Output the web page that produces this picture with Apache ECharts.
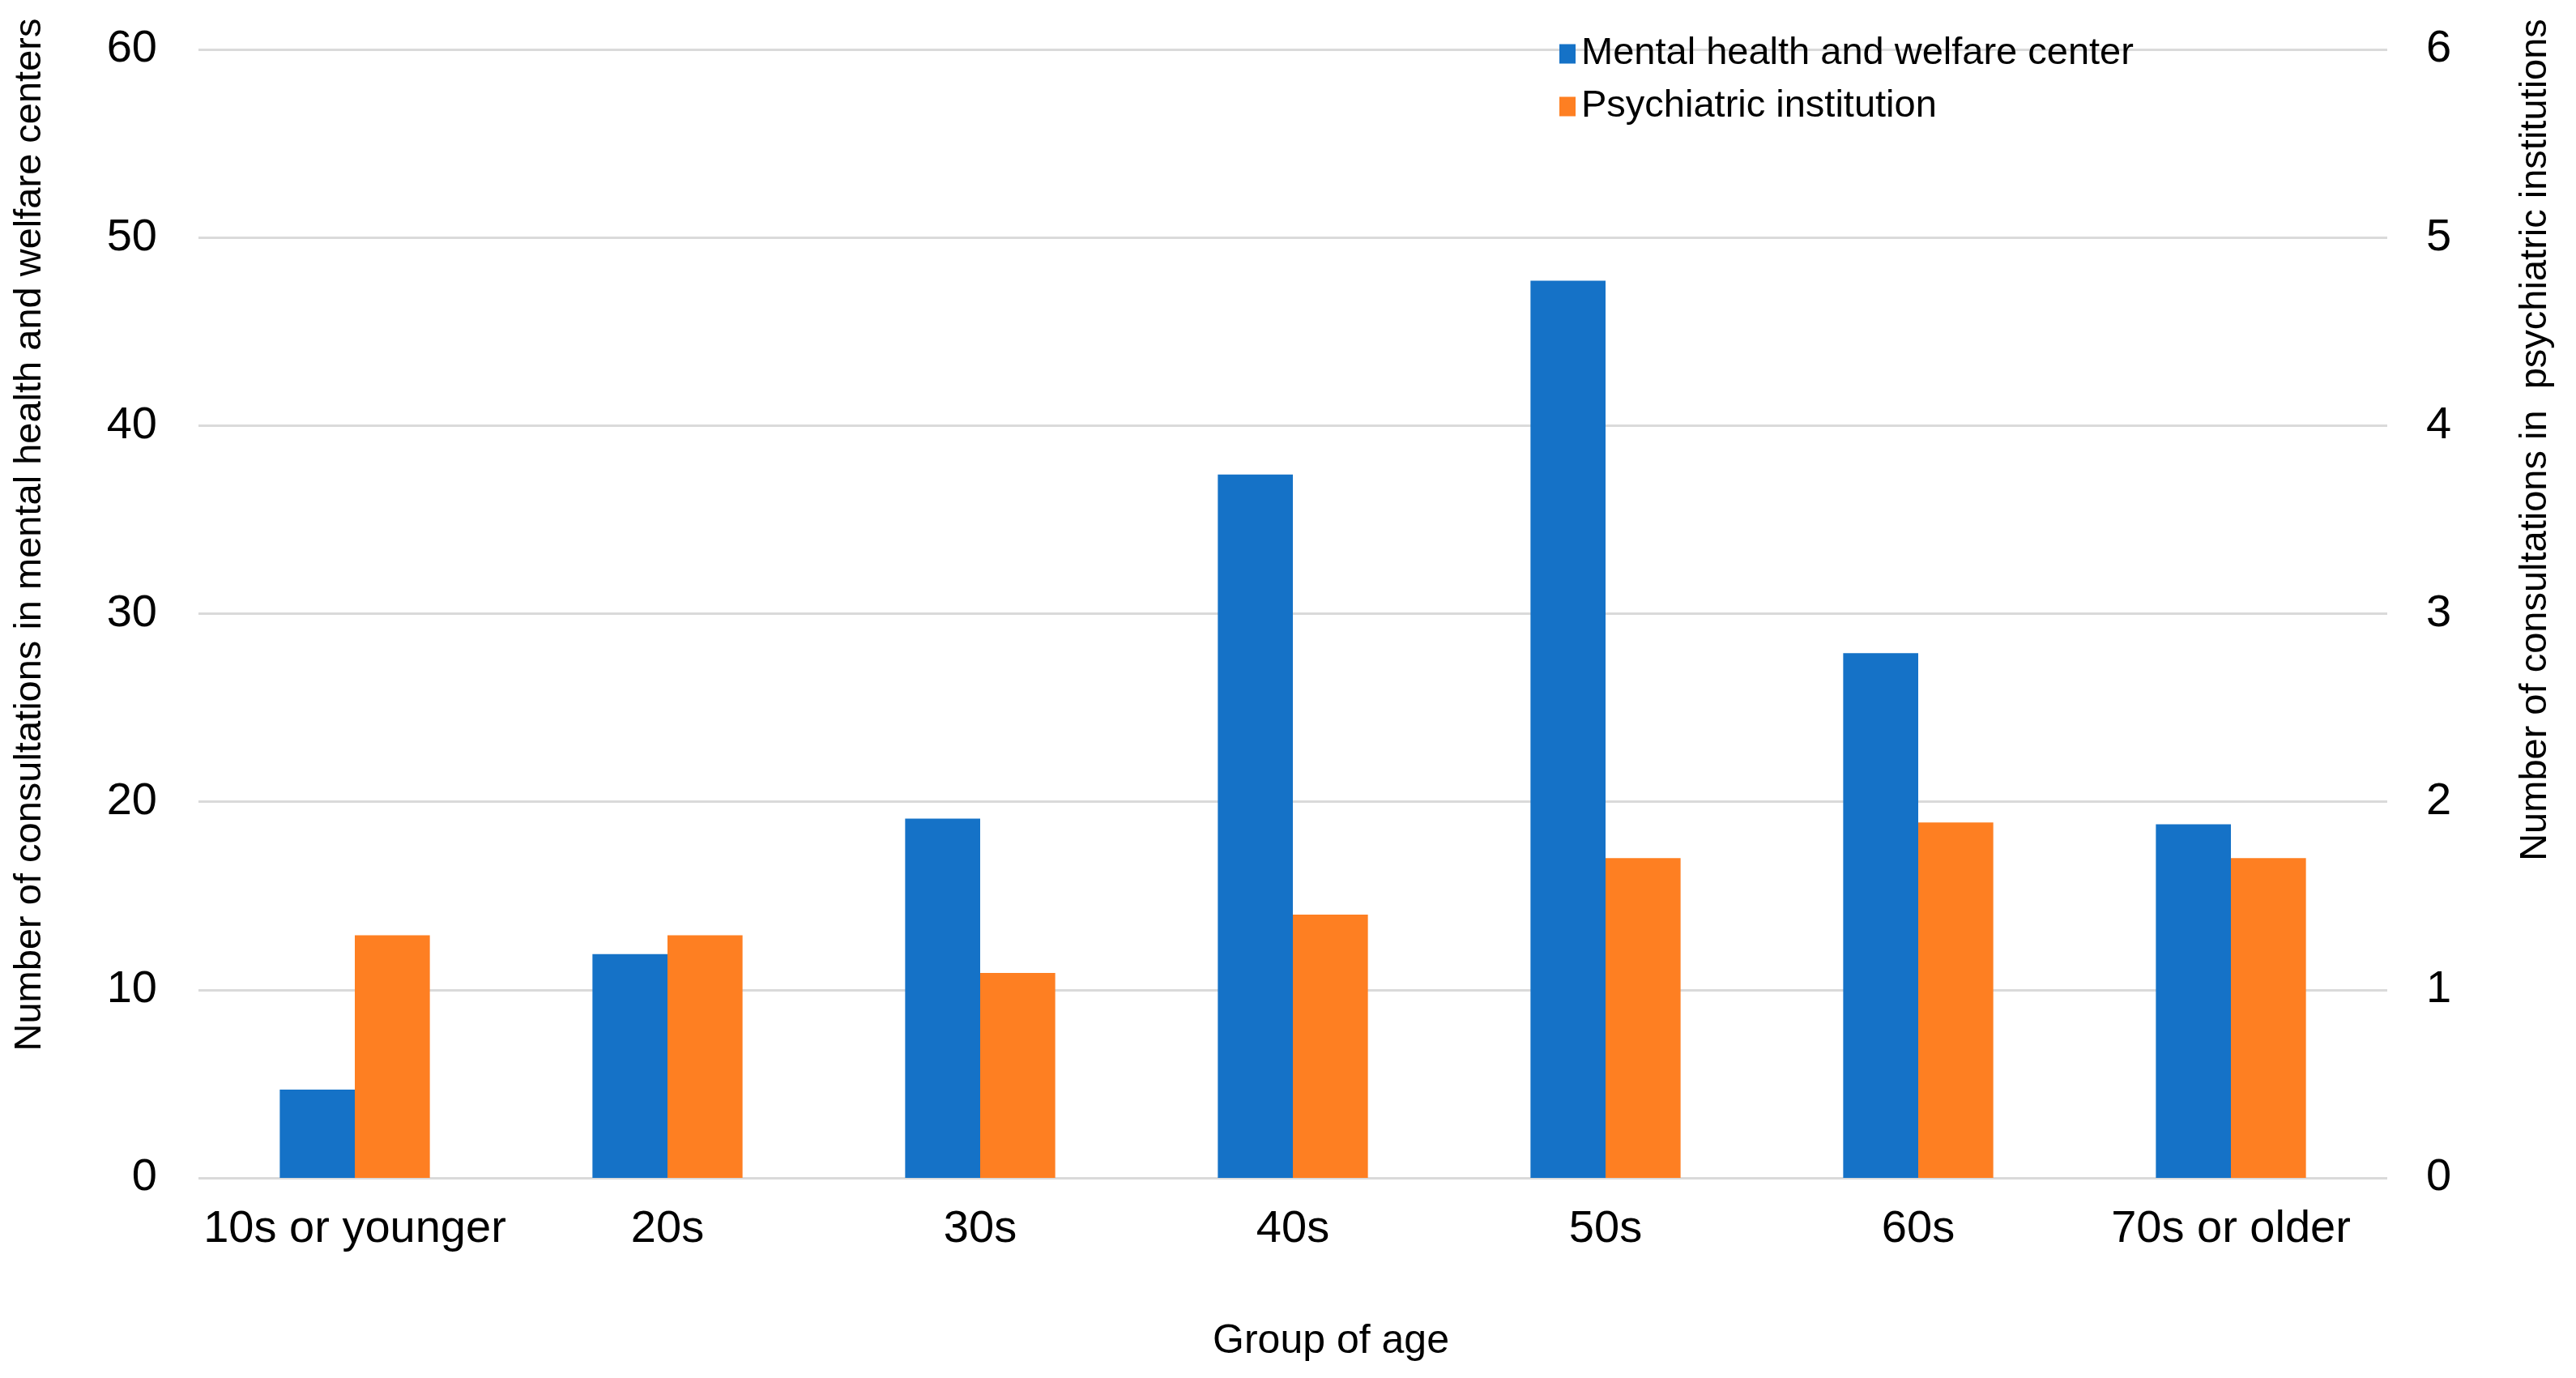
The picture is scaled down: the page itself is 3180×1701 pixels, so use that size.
<!DOCTYPE html>
<html>
<head>
<meta charset="utf-8">
<script src="https://cdn.jsdelivr.net/npm/echarts@6/dist/echarts.min.js"></script>
<style>
html,body{margin:0;padding:0;background:#fff;}
#chart{width:3180px;height:1701px;}
</style>
</head>
<body>
<div id="chart"></div>
<script>
const categories = ['10s or younger', '20s', '30s', '40s', '50s', '60s', '70s or older'];
const mentalHealthCenter = [4.7, 11.9, 19.1, 37.4, 47.7, 27.9, 18.8];
const psychiatricInstitution = [1.29, 1.29, 1.09, 1.40, 1.70, 1.89, 1.70];
const seriesNames = ['Mental health and welfare center', 'Psychiatric institution'];
const leftTitle = 'Number of consultations in mental health and welfare centers';
const rightTitle = 'Number of consultations in  psychiatric institutions';
const xTitle = 'Group of age';

const FONT = "'Liberation Sans', Arial, Helvetica, sans-serif";
const chart = echarts.init(document.getElementById('chart'), null, {renderer: 'canvas'});

chart.setOption({
  backgroundColor: '#ffffff',
  animation: false,
  textStyle: {fontFamily: FONT, color: '#000'},
  grid: {left: 245, right: 233, top: 61, bottom: 247, containLabel: false},
  legend: {
    orient: 'vertical',
    left: 1920,
    top: 38,
    icon: 'rect',
    itemWidth: 20,
    itemHeight: 24,
    itemGap: 18,
    textStyle: {fontSize: 47, lineHeight: 47, color: '#000', fontFamily: FONT, padding: [0, 0, 0, 2]},
    data: seriesNames
  },
  xAxis: {
    type: 'category',
    data: categories,
    axisLine: {show: false},
    axisTick: {show: false},
    axisLabel: {fontSize: 56, lineHeight: 56, color: '#000', margin: 36, fontFamily: FONT, interval: 0}
  },
  yAxis: [
    {
      type: 'value', min: 0, max: 60, interval: 10,
      axisLine: {show: false}, axisTick: {show: false},
      axisLabel: {fontSize: 56, color: '#000', margin: 51, fontFamily: FONT},
      splitLine: {show: true, lineStyle: {color: '#dadada', width: 3}}
    },
    {
      type: 'value', min: 0, max: 6, interval: 1, position: 'right',
      axisLine: {show: false}, axisTick: {show: false},
      axisLabel: {fontSize: 56, color: '#000', margin: 48, fontFamily: FONT},
      splitLine: {show: false}
    }
  ],
  series: [
    {
      name: seriesNames[0], type: 'bar', yAxisIndex: 0,
      data: mentalHealthCenter,
      barGap: '0%', barCategoryGap: '52%',
      itemStyle: {color: '#1572C7'}
    },
    {
      name: seriesNames[1], type: 'bar', yAxisIndex: 1,
      data: psychiatricInstitution,
      barGap: '0%', barCategoryGap: '52%',
      itemStyle: {color: '#FE7F22'}
    }
  ],
  graphic: [
    {
      type: 'text', x: 37, y: 660, rotation: Math.PI / 2,
      style: {text: leftTitle, fontSize: 47, fontFamily: FONT, fill: '#000', align: 'center', verticalAlign: 'middle'}
    },
    {
      type: 'text', x: 3130, y: 543, rotation: Math.PI / 2,
      style: {text: rightTitle, fontSize: 47, fontFamily: FONT, fill: '#000', align: 'center', verticalAlign: 'middle'}
    },
    {
      type: 'text', x: 1643, y: 1656,
      style: {text: xTitle, fontSize: 50, fontFamily: FONT, fill: '#000', align: 'center', verticalAlign: 'middle'}
    }
  ]
});
</script>
</body>
</html>
